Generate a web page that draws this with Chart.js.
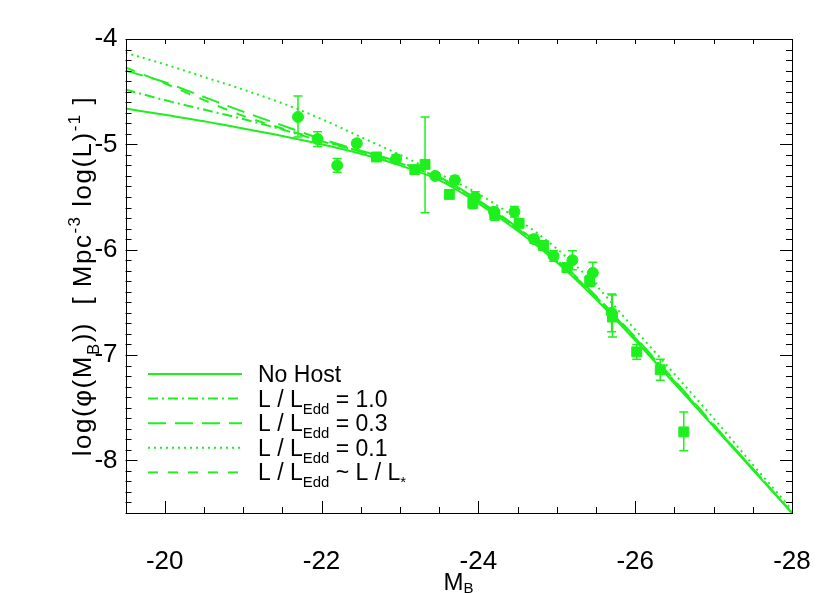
<!DOCTYPE html>
<html>
<head>
<meta charset="utf-8">
<script src="https://cdn.jsdelivr.net/npm/chart.js@4.4.0/dist/chart.umd.min.js"></script>
<style>
html, body { margin: 0; padding: 0; background: #fff; }
</style>
</head>
<body>
<canvas id="grafica" width="830" height="593"></canvas>
<script>
// curvas del modelo (M_B, log phi)
var curvaX = [-19.5, -20, -20.5, -21, -21.5, -22, -22.5, -23, -23.5, -24, -24.5, -25, -25.5, -26, -26.5, -27, -27.5, -28];
var noHost   = [-4.66, -4.72, -4.78, -4.85, -4.92, -5.00, -5.09, -5.20, -5.34, -5.56, -5.82, -6.12, -6.47, -6.86, -7.27, -7.68, -8.09, -8.50];
var edd10    = [-4.48, -4.58, -4.67, -4.76, -4.86, -4.97, -5.07, -5.18, -5.32, -5.54, -5.80, -6.10, -6.45, -6.84, -7.25, -7.67, -8.08, -8.50];
var edd03    = [-4.30, -4.41, -4.55, -4.69, -4.82, -4.95, -5.06, -5.17, -5.31, -5.53, -5.79, -6.09, -6.44, -6.83, -7.24, -7.66, -8.08, -8.50];
var edd01    = [-4.13, -4.24, -4.36, -4.48, -4.61, -4.76, -4.93, -5.10, -5.28, -5.47, -5.71, -5.99, -6.34, -6.76, -7.18, -7.60, -8.04, -8.47];
var eddLstar = [-4.27, -4.42, -4.58, -4.73, -4.85, -4.96, -5.07, -5.18, -5.32, -5.54, -5.80, -6.10, -6.45, -6.84, -7.25, -7.67, -8.08, -8.50];

// datos: circulos
var circX    = [-21.70, -21.95, -22.20, -22.45, -22.95, -23.45, -23.70, -23.96, -24.20, -24.46, -24.71, -24.96, -25.20, -25.46, -25.70];
var circY    = [-4.74, -4.95, -5.20, -4.99, -5.14, -5.30, -5.34, -5.50, -5.64, -5.64, -5.90, -6.06, -6.10, -6.22, -6.60];
var circErrA = [0.20, 0.07, 0.065, 0.03, 0.04, 0.03, 0.04, 0.05, 0.04, 0.05, 0.04, 0.05, 0.09, 0.10, 0.18];
var circErrB = [0.19, 0.07, 0.065, 0.03, 0.04, 0.03, 0.04, 0.05, 0.04, 0.05, 0.04, 0.05, 0.09, 0.10, 0.18];

// datos: cuadrados
var cuadX    = [-22.70, -23.19, -23.32, -23.63, -23.93, -24.21, -24.52, -24.83, -25.13, -25.42, -25.71, -26.02, -26.32, -26.62];
var cuadY    = [-5.12, -5.24, -5.19, -5.475, -5.56, -5.67, -5.75, -5.96, -6.17, -6.30, -6.64, -6.97, -7.14, -7.73];
var cuadErrA = [0.03, 0.03, 0.45, 0.04, 0.05, 0.05, 0.04, 0.04, 0.04, 0.05, 0.21, 0.07, 0.10, 0.19];
var cuadErrB = [0.03, 0.03, 0.46, 0.04, 0.05, 0.05, 0.04, 0.04, 0.04, 0.05, 0.19, 0.07, 0.10, 0.18];

var xTicks = [-20, -22, -24, -26, -28];
var yTicks = [-4, -5, -6, -7, -8];

var verde = '#1ef01e';
var fuente = '"Liberation Sans", Arial, Helvetica, sans-serif';

function pares(xs, ys) {
    return xs.map((x, i) => ({ x: x, y: ys[i] }));
}

function linea(label, ys, dash) {
    return {
        type: 'line',
        label: label,
        data: pares(curvaX, ys),
        borderColor: verde,
        borderWidth: 2,
        borderDash: dash,
        pointRadius: 0,
        fill: false,
        cubicInterpolationMode: 'monotone'
    };
}

// texto con sub/superindices
function textoRico(ctx, partes, x, y, size) {
    partes.forEach(p => {
        var s = p.m ? size * 0.65 : size;
        var dy = p.m === 'sub' ? size * 0.3 : (p.m === 'sup' ? -size * 0.42 : 0);
        ctx.font = s + 'px ' + fuente;
        ctx.fillText(p.t, x, y + dy);
        x += ctx.measureText(p.t).width;
    });
    return x;
}
function anchoRico(ctx, partes, size) {
    var w = 0;
    partes.forEach(p => {
        var s = p.m ? size * 0.65 : size;
        ctx.font = s + 'px ' + fuente;
        w += ctx.measureText(p.t).width;
    });
    return w;
}

var leyenda = [
    { dash: [], partes: [{ t: 'No Host' }] },
    { dash: [10, 4, 2, 4], partes: [{ t: 'L / L' }, { t: 'Edd', m: 'sub' }, { t: ' = 1.0' }] },
    { dash: [18, 9], partes: [{ t: 'L / L' }, { t: 'Edd', m: 'sub' }, { t: ' = 0.3' }] },
    { dash: [2, 4], partes: [{ t: 'L / L' }, { t: 'Edd', m: 'sub' }, { t: ' = 0.1' }] },
    { dash: [10, 10], partes: [{ t: 'L / L' }, { t: 'Edd', m: 'sub' }, { t: ' ~ L / L' }, { t: '*', m: 'sub' }] }
];

var extras = {
    id: 'extras',
    afterDatasetsDraw(chart) {
        var ctx = chart.ctx, sx = chart.scales.x, sy = chart.scales.y;
        ctx.save();
        ctx.strokeStyle = verde;
        ctx.lineWidth = 1.5;
        function barras(xs, ys, ea, eb) {
            xs.forEach((x, i) => {
                var px = sx.getPixelForValue(x);
                var p1 = sy.getPixelForValue(ys[i] + ea[i]);
                var p2 = sy.getPixelForValue(ys[i] - eb[i]);
                ctx.beginPath();
                ctx.moveTo(px, p1); ctx.lineTo(px, p2);
                ctx.moveTo(px - 4.5, p1); ctx.lineTo(px + 4.5, p1);
                ctx.moveTo(px - 4.5, p2); ctx.lineTo(px + 4.5, p2);
                ctx.stroke();
            });
        }
        barras(circX, circY, circErrA, circErrB);
        barras(cuadX, cuadY, cuadErrA, cuadErrB);
        ctx.restore();
    },
    afterDraw(chart) {
        var ctx = chart.ctx, a = chart.chartArea, sx = chart.scales.x, sy = chart.scales.y;
        ctx.save();
        // marco
        ctx.strokeStyle = '#000';
        ctx.lineWidth = 1;
        ctx.strokeRect(Math.round(a.left) + 0.5, Math.round(a.top) + 0.5, Math.round(a.right - a.left) - 1, Math.round(a.bottom - a.top));
        ctx.beginPath();
        for (var k = 0; k <= 16; k++) {
            var vx = -20 - k * 0.5;
            var px = Math.round(sx.getPixelForValue(vx)) + 0.5;
            var largo = (k % 4 === 0) ? 12 : 6;
            ctx.moveTo(px, a.bottom); ctx.lineTo(px, a.bottom - largo);
            ctx.moveTo(px, a.top); ctx.lineTo(px, a.top + 5);
        }
        for (var j = 0; j <= 45; j++) {
            var py = Math.round(sy.getPixelForValue(-4 - j * 0.1)) + 0.5;
            var l2 = (j % 10 === 0) ? 12 : 6;
            ctx.moveTo(a.left, py); ctx.lineTo(a.left + l2, py);
            ctx.moveTo(a.right, py); ctx.lineTo(a.right - l2, py);
        }
        ctx.stroke();

        // leyenda
        ctx.fillStyle = '#000';
        ctx.textBaseline = 'alphabetic';
        leyenda.forEach((e, i) => {
            var y = 374 + i * 24.6;
            ctx.strokeStyle = verde;
            ctx.lineWidth = 2;
            ctx.setLineDash(e.dash);
            ctx.beginPath();
            ctx.moveTo(148, y); ctx.lineTo(242, y);
            ctx.stroke();
            ctx.setLineDash([]);
            textoRico(ctx, e.partes, 258, y + 8, 23);
        });

        // titulo eje x
        var tx = [{ t: 'M' }, { t: 'B', m: 'sub' }];
        var w = anchoRico(ctx, tx, 24);
        ctx.fillStyle = '#000';
        ctx.font = '24px ' + fuente;
        var xm = (a.left + a.right) / 2 - w / 2;
        ctx.fillText('M', xm, 590);
        var wm = ctx.measureText('M').width;
        ctx.font = '15px ' + fuente;
        ctx.fillText('B', xm + wm, 593);

        // titulo eje y
        ctx.letterSpacing = '1.5px';
        var ty = [{ t: 'log(\u03c6(M' }, { t: 'B', m: 'sub' }, { t: '))  [ Mpc' }, { t: '-3', m: 'sup' }, { t: ' log(L)' }, { t: '-1', m: 'sup' }, { t: ' ]' }];
        var wy = anchoRico(ctx, ty, 26);
        ctx.translate(91, 276);
        ctx.rotate(-Math.PI / 2);
        textoRico(ctx, ty, -wy / 2, 0, 26);
        ctx.restore();
    }
};

var ctx = document.getElementById('grafica').getContext('2d');
var grafica = new Chart(ctx, {
    data: {
        datasets: [
            linea('No Host', noHost, []),
            linea('L/LEdd = 1.0', edd10, [10, 4, 2, 4]),
            linea('L/LEdd = 0.3', edd03, [18, 9]),
            linea('L/LEdd = 0.1', edd01, [2, 4]),
            linea('L/LEdd ~ L/L*', eddLstar, [10, 10]),
            {
                type: 'scatter',
                label: 'circulos',
                data: pares(circX, circY),
                pointStyle: 'circle',
                pointRadius: 5.5,
                backgroundColor: verde,
                borderColor: verde,
                borderWidth: 1
            },
            {
                type: 'scatter',
                label: 'cuadrados',
                data: pares(cuadX, cuadY),
                pointStyle: 'rect',
                pointRadius: 7,
                backgroundColor: verde,
                borderColor: verde,
                borderWidth: 1
            }
        ]
    },
    options: {
        responsive: false,
        animation: false,
        layout: { padding: { top: 39, right: 38, left: 0, bottom: 0 } },
        plugins: { legend: { display: false }, tooltip: { enabled: false } },
        scales: {
            x: {
                type: 'linear',
                reverse: true,
                min: -28,
                max: -19.5,
                grid: { display: false, drawTicks: false },
                border: { display: false },
                afterBuildTicks: s => { s.ticks = xTicks.map(v => ({ value: v })); },
                afterFit: s => { s.height = 80; s.paddingLeft = 0; s.paddingRight = 0; },
                ticks: {
                    padding: 33,
                    color: '#000',
                    font: { family: fuente, size: 26 },
                    maxRotation: 0
                }
            },
            y: {
                type: 'linear',
                min: -8.5,
                max: -4,
                grid: { display: false, drawTicks: false },
                border: { display: false },
                afterBuildTicks: s => { s.ticks = yTicks.map(v => ({ value: v })); },
                afterFit: s => { s.width = 125.5; s.paddingTop = 0; s.paddingBottom = 0; },
                ticks: {
                    padding: 8,
                    color: '#000',
                    font: { family: fuente, size: 26 }
                }
            }
        }
    },
    plugins: [extras]
});
</script>
</body>
</html>
